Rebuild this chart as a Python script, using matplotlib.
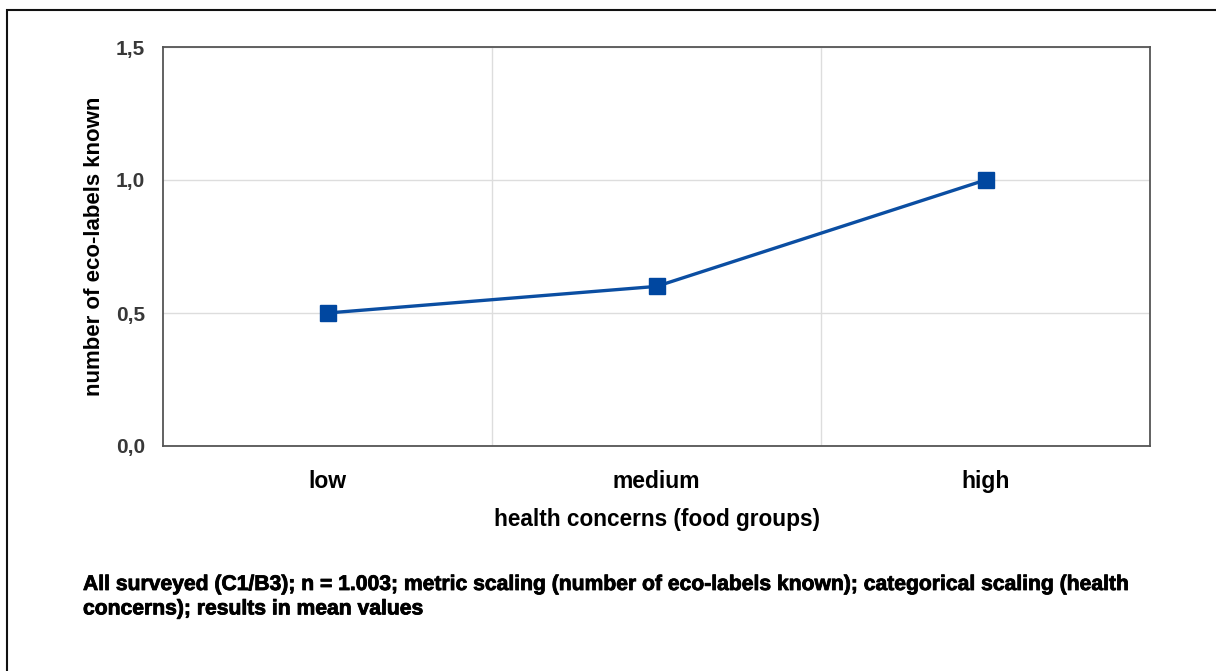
import matplotlib
matplotlib.use("Agg")
import matplotlib.pyplot as plt
import matplotlib.patheffects as pe
from matplotlib.patches import Rectangle
from matplotlib.ticker import FuncFormatter

categories = ["low", "medium", "high"]
values = [0.5, 0.6, 1.0]
y_ticks = [0.0, 0.5, 1.0, 1.5]

xlabel = "health concerns (food groups)"
ylabel = "number of eco-labels known"
note = ("All surveyed (C1/B3); n = 1.003; metric scaling (number of eco-labels known); categorical scaling (health\n"
        "concerns); results in mean values")

plt.rcParams["font.family"] = ["Liberation Sans", "DejaVu Sans"]

W, H = 1216, 671
fig = plt.figure(figsize=(W / 100, H / 100), dpi=100)

# outer frame
fig.patches.append(Rectangle((7 / W, -0.05), 1.1, 1 - 10 / H + 0.05, transform=fig.transFigure,
                             fill=False, edgecolor="#111111", linewidth=1.5))

ax = fig.add_axes([163 / W, 1 - 446 / H, (1150 - 163) / W, (446 - 47) / H])

x = [i + 0.5 for i in range(len(categories))]
ax.plot(x, values, color="#0B4EA2", linewidth=2.4, marker="s", markersize=11.5,
        markerfacecolor="#0047A0", markeredgecolor="#0047A0", zorder=3)

ax.set_xlim(0, len(categories))
ax.set_ylim(y_ticks[0], y_ticks[-1])
ax.set_yticks(y_ticks)
ax.yaxis.set_major_formatter(FuncFormatter(lambda v, p: f"{v:.1f}".replace(".", ",")))
ax.set_xticks(x)
ax.set_xticklabels(categories)
ax.set_xticks(range(1, len(categories)), minor=True)

ax.grid(True, axis="y", which="major", color="#dddddd", linewidth=1)
ax.grid(True, axis="x", which="minor", color="#dddddd", linewidth=1)
ax.tick_params(which="both", length=0)
ax.tick_params(axis="y", pad=13, labelsize=15, labelcolor="#383838")
ax.tick_params(axis="x", pad=17, labelsize=16.5, labelcolor="black")
for lab in ax.get_xticklabels() + ax.get_yticklabels():
    lab.set_fontweight("bold")

for s in ax.spines.values():
    s.set_color("#555555")
    s.set_linewidth(1.3)

ax.set_xlabel(xlabel, fontsize=16.3, fontweight="bold", labelpad=11)
ax.set_ylabel(ylabel, fontsize=16, fontweight="bold", labelpad=8)

fig.text(83 / W, 1 - 575 / H, note, fontsize=15.2, fontweight="bold", va="top",
         linespacing=1.36,
         path_effects=[pe.withStroke(linewidth=0.6, foreground="black")])

fig.savefig("out.png", dpi=100)
